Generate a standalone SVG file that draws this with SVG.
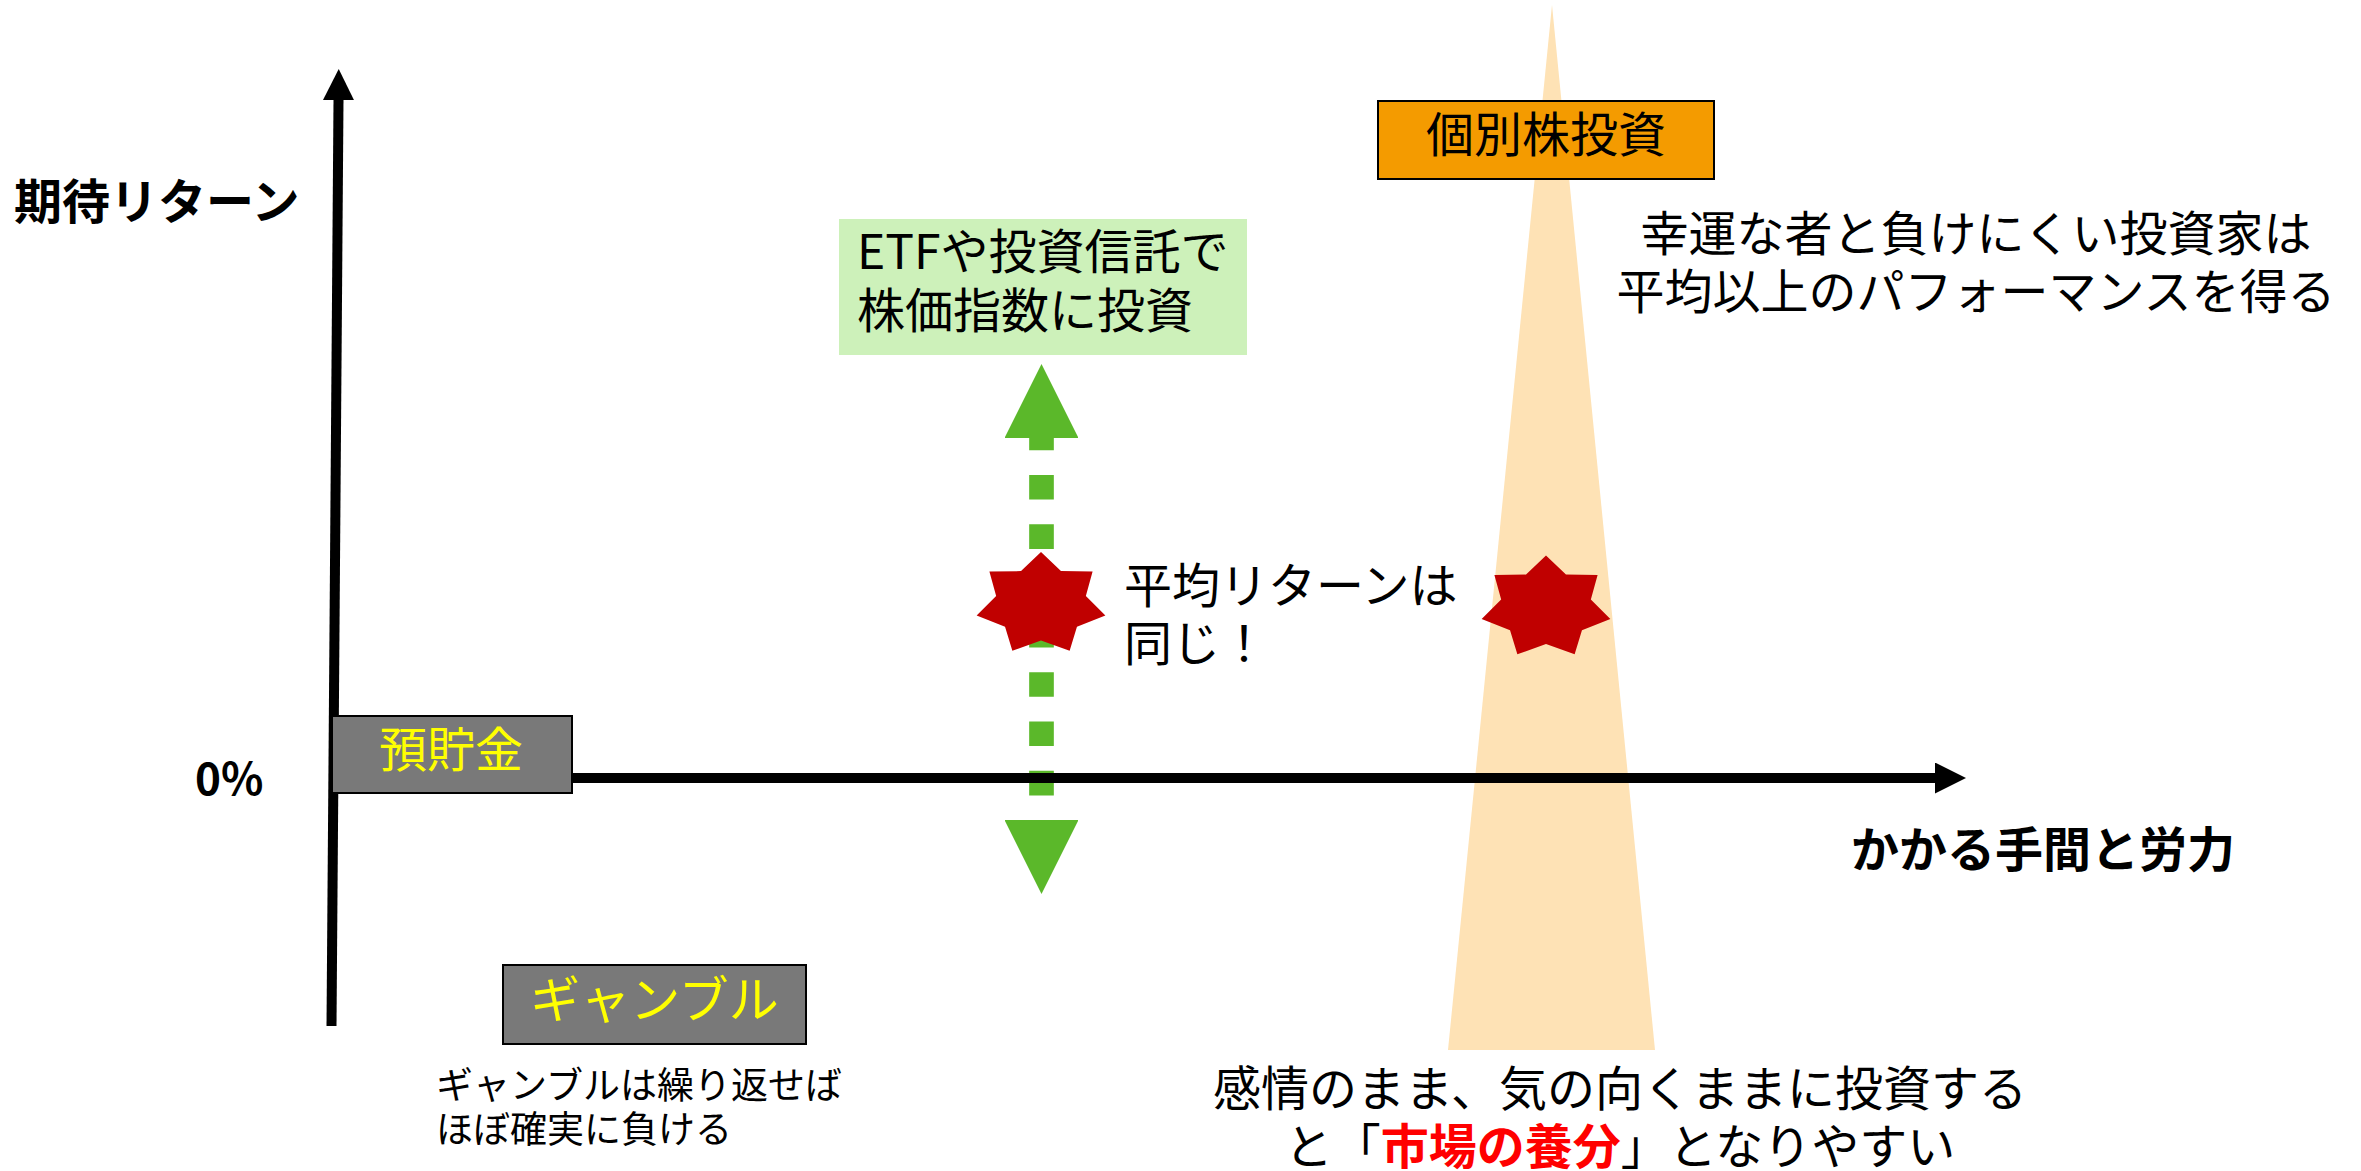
<svg xmlns="http://www.w3.org/2000/svg" width="2361" height="1171" viewBox="0 0 2361 1171">
  <style>
    text { font-family: "Noto Sans CJK JP", "Noto Sans", sans-serif; font-size: 48px; fill: #000; }
    .b { font-weight: bold; }
    .y { fill: #ffff00; }
    .mid { text-anchor: middle; }
    .gray { fill: #797979; stroke: #000; stroke-width: 2; }
    .axis { stroke: #000; stroke-width: 10; fill: none; }
    .garrow { stroke: #5bb82a; stroke-width: 24.65; fill: none; stroke-dasharray: 24.65 24.65; stroke-dashoffset: 12.35; }
    .star { fill: #c00000; }
  </style>
  <defs>
    <marker id="ahBlack" viewBox="0 0 10 10" refX="0" refY="5" markerWidth="3.1" markerHeight="3.1" orient="auto" markerUnits="strokeWidth">
      <path d="M0,0 L10,5 L0,10 z" fill="#000"/>
    </marker>
    <marker id="ahGreen" viewBox="0 0 10 10" refX="0" refY="5" markerWidth="3" markerHeight="3" orient="auto-start-reverse" markerUnits="strokeWidth">
      <path d="M0,0 L10,5 L0,10 z" fill="#5bb82a"/>
    </marker>
    <path id="star7" d="M0,-52 L19.96,-32.89 L51.6,-32.42 L44.85,-8.12 L64.35,11.57 L35.96,22.76 L28.64,46.85 L0,36.5 L-28.64,46.85 L-35.96,22.76 L-64.35,11.57 L-44.85,-8.12 L-51.6,-32.42 L-19.96,-32.89 Z"/>
  </defs>

  <g id="individual-stock-range">
    <polygon points="1552,5 1448,1050 1655,1050" fill="#fee2b5"/>
  </g>

  <g id="index-investing">
    <rect x="839" y="219" width="408" height="136" fill="#cdf1ba"/>
    <text x="857" y="268.5">ETFや投資信託で</text>
    <text x="857" y="327.5">株価指数に投資</text>
  </g>

  <g id="connectors">
    <line class="garrow" x1="1041.5" y1="438" x2="1041.5" y2="820" marker-start="url(#ahGreen)" marker-end="url(#ahGreen)"/>
    <line class="axis" x1="331.5" y1="1026" x2="338.5" y2="100" marker-end="url(#ahBlack)"/>
    <line class="axis" x1="334" y1="778" x2="1935" y2="778" marker-end="url(#ahBlack)"/>
  </g>

  <g id="star-index">
    <use href="#star7" class="star" transform="translate(1041,604)"/>
  </g>
  <g id="star-stock">
    <use href="#star7" class="star" transform="translate(1546,607.5)"/>
  </g>

  <g id="same-return-label">
    <text x="1124" y="603">平均リターンは</text>
    <text x="1124" y="661">同じ！</text>
  </g>

  <g id="y-axis-label">
    <text class="b" x="14" y="219">期待リターン</text>
  </g>
  <g id="zero-label">
    <text class="b" x="195" y="795" style="font-size:44px">0%</text>
  </g>
  <g id="x-axis-label">
    <text class="b" x="1851" y="867">かかる手間と労力</text>
  </g>

  <g id="savings">
    <rect class="gray" x="332" y="716" width="240" height="77"/>
    <text class="y mid" x="451" y="767">預貯金</text>
  </g>

  <g id="gamble">
    <rect class="gray" x="503" y="965" width="303" height="79"/>
    <text class="y mid" x="654.5" y="1018" style="font-size:50px">ギャンブル</text>
  </g>
  <g id="gamble-note">
    <text x="436" y="1099" style="font-size:37px">ギャンブルは繰り返せば</text>
    <text x="436" y="1143" style="font-size:37px">ほぼ確実に負ける</text>
  </g>

  <g id="individual-stock">
    <rect x="1378" y="101" width="336" height="78" fill="#f49b00" stroke="#000" stroke-width="2"/>
    <text class="mid" x="1546" y="152">個別株投資</text>
  </g>
  <g id="lucky-note">
    <text class="mid" x="1976" y="251">幸運な者と負けにくい投資家は</text>
    <text class="mid" x="1976" y="309">平均以上のパフォーマンスを得る</text>
  </g>
  <g id="emotion-note">
    <text class="mid" x="1620" y="1106">感情のまま、気の向くままに投資する</text>
    <text class="mid" x="1620" y="1164">と「<tspan class="b" fill="#ff0000">市場の養分</tspan>」となりやすい</text>
  </g>
</svg>
